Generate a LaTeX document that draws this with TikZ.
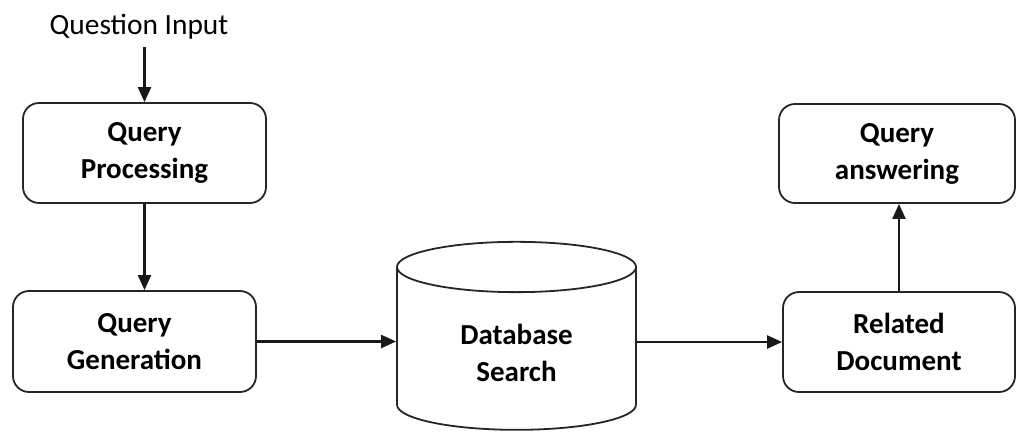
\documentclass[tikz,border=0pt]{standalone}
\usepackage{fontspec}
\setmainfont{Carlito}
\usetikzlibrary{arrows.meta,shapes.geometric}
\begin{document}
\begin{tikzpicture}[x=0.5pt,y=-0.5pt,
  blk/.style={draw=black!85,line width=0.9pt,rounded corners=8pt,align=center,font=\fontsize{14.5}{18.5}\selectfont\bfseries},
  dbase/.style={draw=black!85,line width=0.9pt,cylinder,shape border rotate=90,aspect=0.4,align=center,font=\fontsize{14.5}{18.5}\selectfont\bfseries},
  arr/.style={-{Triangle[length=7.5pt,width=6.5pt]},line width=1.1pt,draw=black!90}]
\useasboundingbox (0,0) rectangle (1016,434);
\node[font=\fontsize{14.7}{18}\selectfont] (qin) at (139,27) {Question Input};
\node[blk,minimum width=121.5pt,minimum height=50pt] (qproc) at (144.5,153) {Query\\Processing};
\node[blk,minimum width=121.5pt,minimum height=50.5pt] (qgen) at (134.5,341.5) {Query\\Generation};
\node[dbase,minimum width=119.5pt,minimum height=94pt] (db) at (516.5,353) {Database\\Search};
\node[blk,minimum width=116pt,minimum height=50pt] (rdoc) at (899,342) {Related\\Document};
\node[blk,minimum width=118pt,minimum height=49.5pt] (qans) at (897,153.5) {Query\\answering};
\draw[arr] (qproc.north |- qin.south) -- (qproc.north);
\draw[arr] (qproc.south) -- (qproc.south |- qgen.north);
\draw[arr] (qgen.east) -- (qgen.east -| db.west);
\draw[arr] (db.east |- rdoc.west) -- (rdoc.west);
\draw[arr] (rdoc.north) -- (rdoc.north |- qans.south);
\end{tikzpicture}
\end{document}
